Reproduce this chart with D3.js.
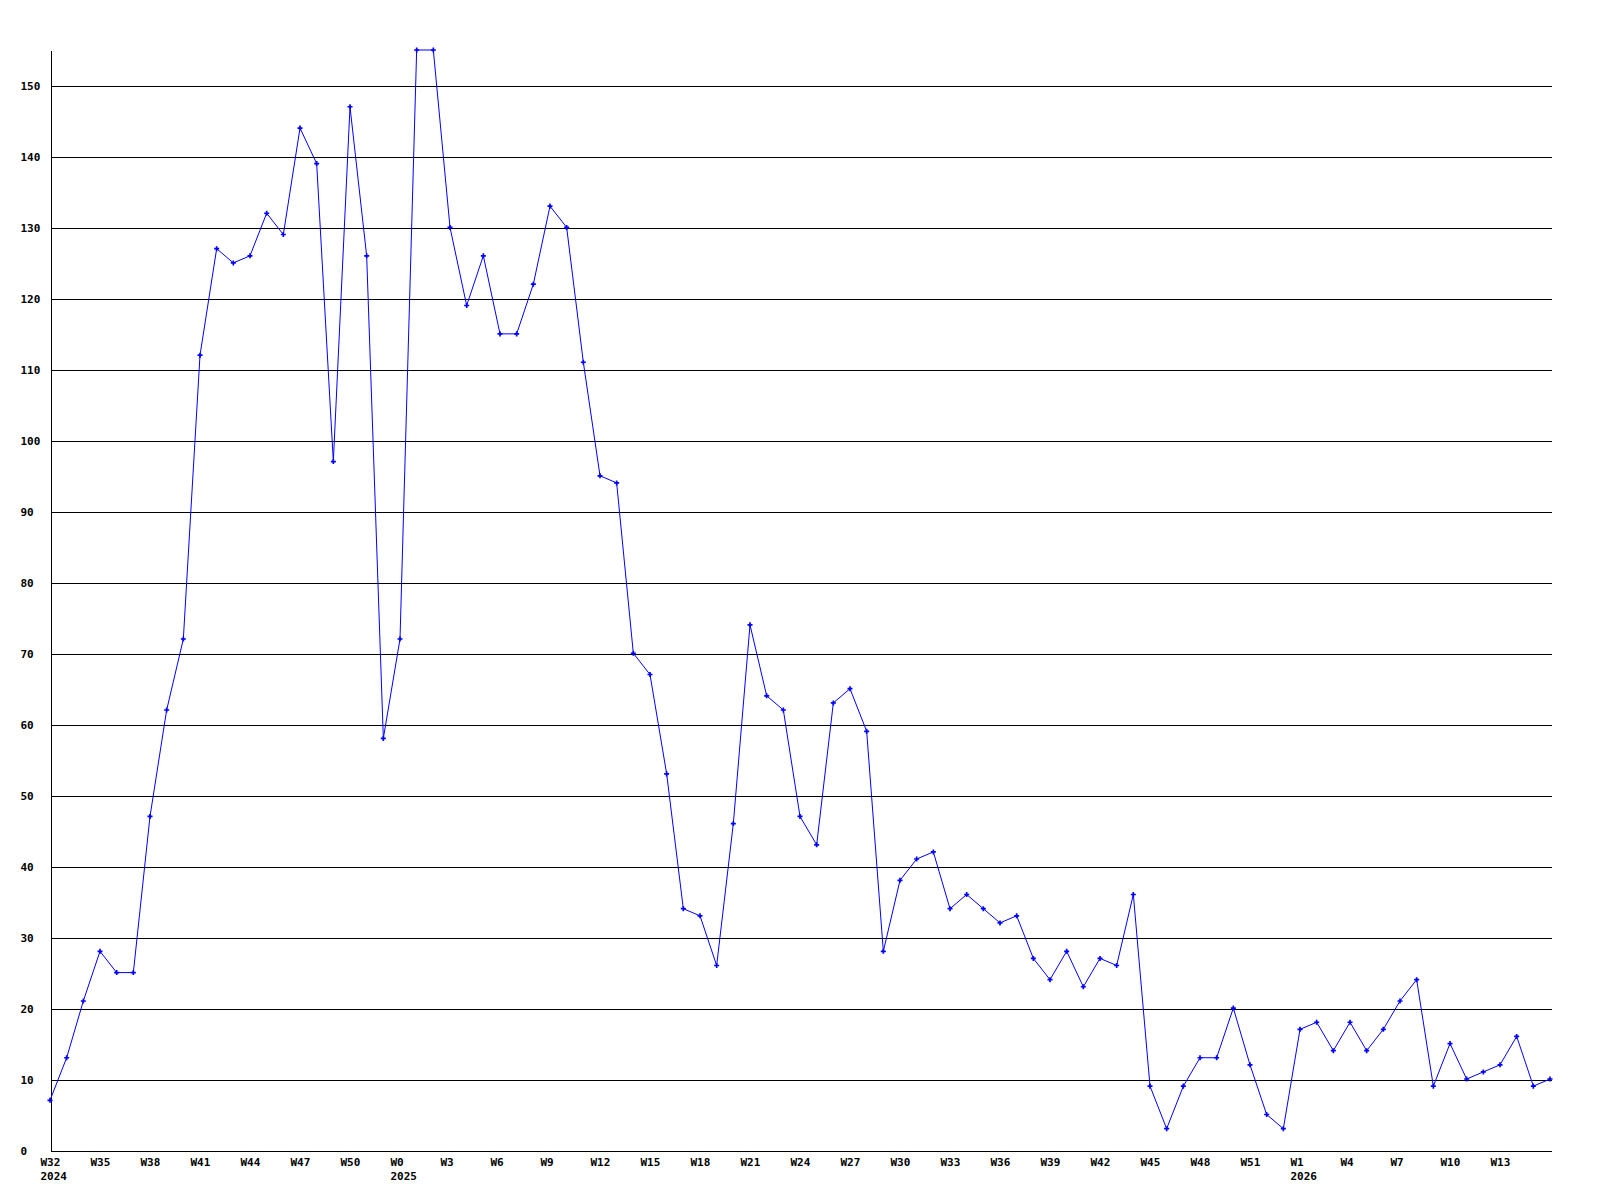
<!DOCTYPE html>
<html>
<head>
<meta charset="utf-8">
<script src="https://cdn.jsdelivr.net/npm/d3@7"></script>
<style>
	body { margin: 0; background: #ffffff; }
	text { font-family: "DejaVu Sans Mono", "Liberation Mono", monospace; font-weight: bold; font-size: 11px; fill: #000000; }
</style>
</head>
<body>
<div id="chart"></div>
<script>

///////////////////////////////////////////////////////////////////////////
/////////////////////////////////// Data //////////////////////////////////
///////////////////////////////////////////////////////////////////////////

//One entry per week, year-week
var weeks = [
	"2024-W32","2024-W33","2024-W34","2024-W35","2024-W36","2024-W37","2024-W38","2024-W39","2024-W40","2024-W41",
	"2024-W42","2024-W43","2024-W44","2024-W45","2024-W46","2024-W47","2024-W48","2024-W49","2024-W50","2024-W51",
	"2024-W52",
	"2025-W0","2025-W1","2025-W2","2025-W3","2025-W4","2025-W5","2025-W6","2025-W7","2025-W8","2025-W9",
	"2025-W10","2025-W11","2025-W12","2025-W13","2025-W14","2025-W15","2025-W16","2025-W17","2025-W18","2025-W19",
	"2025-W20","2025-W21","2025-W22","2025-W23","2025-W24","2025-W25","2025-W26","2025-W27","2025-W28","2025-W29",
	"2025-W30","2025-W31","2025-W32","2025-W33","2025-W34","2025-W35","2025-W36","2025-W37","2025-W38","2025-W39",
	"2025-W40","2025-W41","2025-W42","2025-W43","2025-W44","2025-W45","2025-W46","2025-W47","2025-W48","2025-W49",
	"2025-W50","2025-W51","2025-W52",
	"2026-W0","2026-W1","2026-W2","2026-W3","2026-W4","2026-W5","2026-W6","2026-W7","2026-W8","2026-W9",
	"2026-W10","2026-W11","2026-W12","2026-W13","2026-W14","2026-W15","2026-W16"
];

var counts = [
	7, 13, 21, 28, 25, 25, 47, 62, 72, 112,
	127, 125, 126, 132, 129, 144, 139, 97, 147, 126,
	58,
	72, 155, 155, 130, 119, 126, 115, 115, 122, 133,
	130, 111, 95, 94, 70, 67, 53, 34, 33, 26,
	46, 74, 64, 62, 47, 43, 63, 65, 59, 28,
	38, 41, 42, 34, 36, 34, 32, 33, 27, 24,
	28, 23, 27, 26, 36, 9, 3, 9, 13, 13,
	20, 12, 5,
	3, 17, 18, 14, 18, 14, 17, 21, 24, 9,
	15, 10, 11, 12, 16, 9, 10
];

//Labelled weeks on the x axis
var tickWeeks = [
	"2024-W32","2024-W35","2024-W38","2024-W41","2024-W44","2024-W47","2024-W50",
	"2025-W0","2025-W3","2025-W6","2025-W9","2025-W12","2025-W15","2025-W18","2025-W21","2025-W24",
	"2025-W27","2025-W30","2025-W33","2025-W36","2025-W39","2025-W42","2025-W45","2025-W48","2025-W51",
	"2026-W1","2026-W4","2026-W7","2026-W10","2026-W13"
];

//Weeks that also get the year printed underneath
var yearTicks = ["2024-W32", "2025-W0", "2026-W1"];

var yTicks = [0, 10, 20, 30, 40, 50, 60, 70, 80, 90, 100, 110, 120, 130, 140, 150];

///////////////////////////////////////////////////////////////////////////
//////////////////// Set up and initiate svg containers ///////////////////
///////////////////////////////////////////////////////////////////////////

var width = 1600,
	height = 1200;

var plotLeft = 50,
	plotRight = 1550,
	plotTop = 50,
	plotBottom = 1150;

var svg = d3.select("#chart")
	.append("svg")
	.attr("width", width)
	.attr("height", height);

var x = d3.scalePoint()
	.domain(weeks)
	.range([plotLeft, plotRight]);

var y = d3.scaleLinear()
	.domain([0, 155])
	.range([plotBottom, plotTop]);

///////////////////////////////////////////////////////////////////////////
///////////////////////////////// Axes ////////////////////////////////////
///////////////////////////////////////////////////////////////////////////

//Horizontal grid lines plus y labels
var yAxis = svg.append("g")
	.attr("class", "y axis")
	.attr("transform", "translate(" + (plotLeft + 0.5) + ",0.5)")
	.call(d3.axisLeft(y)
		.tickValues(yTicks)
		.tickSize(-(plotRight - plotLeft + 1))
		.tickSizeOuter(0)
		.tickPadding(0));

yAxis.attr("font-size", null).attr("font-family", null);
yAxis.selectAll("line")
	.attr("stroke", "#000")
	.attr("shape-rendering", "crispEdges");
yAxis.select(".domain")
	.attr("stroke", "#000")
	.attr("shape-rendering", "crispEdges");
yAxis.selectAll("text")
	.attr("x", 20 - plotLeft)
	.attr("dy", "0.35em")
	.style("text-anchor", "start");

//Week labels along the bottom
var xAxis = svg.append("g")
	.attr("class", "x axis")
	.attr("transform", "translate(0," + (plotBottom + 0.5) + ")")
	.call(d3.axisBottom(x)
		.tickValues(tickWeeks)
		.tickSize(0)
		.tickSizeOuter(0)
		.tickPadding(0)
		.tickFormat(function(d) { return d.split("-")[1]; }));

xAxis.attr("font-size", null).attr("font-family", null);
xAxis.select(".domain")
	.attr("stroke", "#000")
	.attr("shape-rendering", "crispEdges");

xAxis.selectAll(".tick text")
	.attr("x", -10)
	.attr("y", 8)
	.attr("dy", "0.71em")
	.style("text-anchor", "start");

//Year under first labelled week of each year
xAxis.selectAll(".tick")
	.filter(function(d) { return yearTicks.indexOf(d) > -1; })
	.append("text")
	.attr("x", -10)
	.attr("y", 22)
	.attr("dy", "0.71em")
	.style("text-anchor", "start")
	.text(function(d) { return d.split("-")[0]; });

///////////////////////////////////////////////////////////////////////////
///////////////////////////////// Line ////////////////////////////////////
///////////////////////////////////////////////////////////////////////////

var line = d3.line()
	.x(function(d, i) { return x(weeks[i]); })
	.y(function(d) { return y(d); });

svg.append("path")
	.datum(counts)
	.attr("class", "line")
	.attr("d", line)
	.style("fill", "none")
	.style("stroke", "#0000FF")
	.style("stroke-width", 1);

//Small cross markers on every week
svg.selectAll(".marker")
	.data(counts)
	.enter().append("path")
	.attr("class", "marker")
	.attr("transform", function(d, i) { return "translate(" + x(weeks[i]) + "," + y(d) + ")"; })
	.attr("d", d3.symbol().type(d3.symbolCross).size(14))
	.style("fill", "#0000FF");

</script>
</body>
</html>
